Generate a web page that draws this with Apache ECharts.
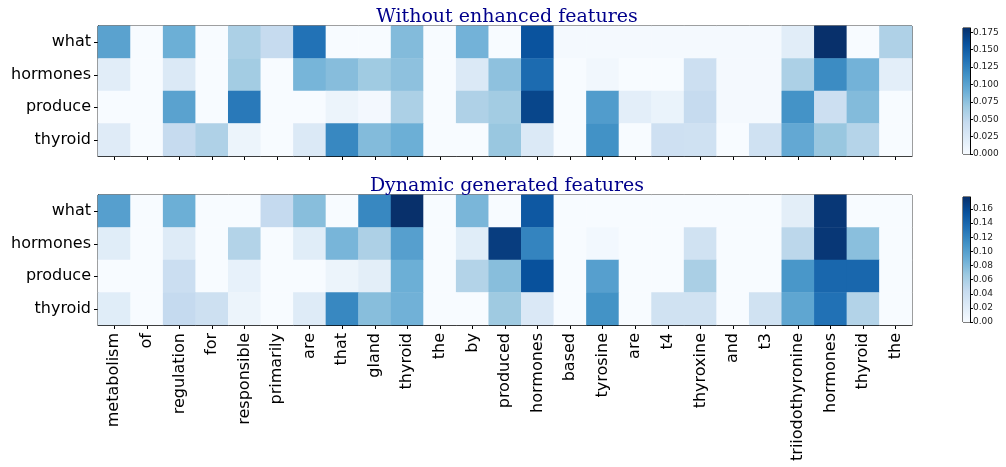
<!DOCTYPE html>
<html><head><meta charset="utf-8">
<script src="https://cdn.jsdelivr.net/npm/echarts@6/dist/echarts.min.js"></script>
<style>html,body{margin:0;padding:0;background:#fff}#c{width:1006px;height:467px}</style>
</head><body><div id="c"></div>
<script>
const words = ['metabolism','of','regulation','for','responsible','primarily','are','that','gland','thyroid','the','by','produced','hormones','based','tyrosine','are','t4','thyroxine','and','t3','triiodothyronine','hormones','thyroid','the'];
const rows = ['what','hormones','produce','thyroid'];
const titleTop = 'Without enhanced features';
const titleBottom = 'Dynamic generated features';
const vmaxTop = 0.181;
const vmaxBottom = 0.177;
const ticksTop = 0.025;
const ticksBottom = 0.02;

// Without enhanced features
const topWhat     = [0.10,0,0.09,0,0.06,0.045,0.135,0,0,0.08,0,0.087,0,0.157,0.003,0.003,0.003,0.003,0.003,0.003,0.003,0.02,0.181,0,0.058];
const topHormones = [0.02,0,0.025,0,0.065,0,0.085,0.078,0.067,0.075,0,0.025,0.075,0.14,0,0.005,0,0,0.04,0.003,0.003,0.06,0.117,0.087,0.018];
const topProduce  = [0,0,0.10,0,0.13,0,0,0.01,0.004,0.06,0,0.058,0.065,0.166,0,0.105,0.018,0.012,0.045,0.003,0.003,0.112,0.04,0.08,0];
const topThyroid  = [0.022,0,0.045,0.058,0.01,0,0.025,0.12,0.08,0.09,0,0,0.07,0.025,0,0.113,0,0.038,0.037,0,0.037,0.095,0.07,0.055,0];

// Dynamic generated features
const botWhat     = [0.10,0,0.088,0,0,0.045,0.076,0,0.117,0.177,0,0.082,0,0.15,0,0,0,0,0,0,0,0.018,0.172,0,0];
const botHormones = [0.02,0,0.022,0,0.055,0,0.02,0.083,0.058,0.10,0,0.02,0.168,0.12,0,0.004,0,0,0.035,0,0,0.05,0.172,0.075,0];
const botProduce  = [0,0,0.04,0,0.014,0,0,0.01,0.018,0.088,0,0.055,0.076,0.155,0,0.10,0,0,0.06,0,0,0.107,0.14,0.14,0];
const botThyroid  = [0.02,0,0.045,0.038,0.01,0,0.022,0.117,0.076,0.086,0,0,0.066,0.026,0,0.11,0,0.035,0.035,0,0.035,0.095,0.133,0.055,0];

const blues = ['#f7fbff','#deebf7','#c6dbef','#9ecae1','#6baed6','#4292c6','#2171b5','#08519c','#08306b'];

function toCells(rowsArr){
  const out=[];
  rowsArr.forEach((r,yi)=>r.forEach((v,xi)=>out.push([xi,yi,v])));
  return out;
}
const topData = toCells([topWhat,topHormones,topProduce,topThyroid]);
const botData = toCells([botWhat,botHormones,botProduce,botThyroid]);

const FONT = 'DejaVu Sans';
const barGrad = {type:'linear',x:0,y:1,x2:0,y2:0,
  colorStops:blues.map((c,i)=>({offset:i/(blues.length-1),color:c}))};

function xAx(gi, showLabels){
  return {type:'category', gridIndex:gi, data:words,
    axisLine:{show:true,lineStyle:{color:'#000',width:1}},
    axisTick:{show:true,alignWithLabel:true,length:4,lineStyle:{color:'#000'}},
    axisLabel:{show:showLabels,rotate:90,interval:0,fontFamily:FONT,fontSize:16,color:'#000',margin:8},
    splitLine:{show:false}};
}
function yAx(gi){
  return {type:'category', gridIndex:gi, data:rows, inverse:true,
    axisLine:{show:true,lineStyle:{color:'#000',width:1}},
    axisTick:{show:true,alignWithLabel:true,length:4,lineStyle:{color:'#000'}},
    axisLabel:{fontFamily:FONT,fontSize:16,color:'#000',margin:7},
    splitLine:{show:false}};
}
function cbX(gi){ return {type:'category',gridIndex:gi,data:['c'],show:false}; }
function cbY(gi,vmax,iv,dec){
  return {type:'value',gridIndex:gi,min:0,max:vmax,interval:iv,position:'right',
    axisLine:{show:true,lineStyle:{color:'#000',width:1}},
    axisTick:{show:true,length:3,lineStyle:{color:'#000'}},
    axisLabel:{fontFamily:FONT,fontSize:9,color:'#222',margin:3,showMaxLabel:false,
      formatter:v=>v.toFixed(dec)},
    splitLine:{show:false}};
}

const option = {
  animation:false,
  backgroundColor:'#fff',
  title:[
    {text:titleTop,left:502,top:3,textAlign:'center',textStyle:{fontFamily:'DejaVu Serif',fontSize:19,fontWeight:'normal',color:'#00008b'}},
    {text:titleBottom,left:502,top:172,textAlign:'center',textStyle:{fontFamily:'DejaVu Serif',fontSize:19,fontWeight:'normal',color:'#00008b'}}
  ],
  grid:[
    {left:98,top:26,width:814,height:130,show:true,borderColor:'#000',borderWidth:1,backgroundColor:'transparent'},
    {left:98,top:195,width:814,height:130,show:true,borderColor:'#000',borderWidth:1,backgroundColor:'transparent'},
    {left:963,top:28,width:7,height:126,show:true,borderColor:'#000',borderWidth:1},
    {left:963,top:197,width:7,height:125,show:true,borderColor:'#000',borderWidth:1}
  ],
  xAxis:[xAx(0,false),xAx(1,true),cbX(2),cbX(3)],
  yAxis:[yAx(0),yAx(1),cbY(2,vmaxTop,ticksTop,3),cbY(3,vmaxBottom,ticksBottom,2)],
  visualMap:[
    {type:'continuous',show:false,seriesIndex:0,min:0,max:vmaxTop,inRange:{color:blues}},
    {type:'continuous',show:false,seriesIndex:1,min:0,max:vmaxBottom,inRange:{color:blues}}
  ],
  series:[
    {type:'heatmap',xAxisIndex:0,yAxisIndex:0,data:topData,itemStyle:{borderWidth:0},emphasis:{disabled:true},z:1},
    {type:'heatmap',xAxisIndex:1,yAxisIndex:1,data:botData,itemStyle:{borderWidth:0},emphasis:{disabled:true},z:1},
    {type:'bar',xAxisIndex:2,yAxisIndex:2,data:[vmaxTop],barWidth:'100%',itemStyle:{color:barGrad}},
    {type:'bar',xAxisIndex:3,yAxisIndex:3,data:[vmaxBottom],barWidth:'100%',itemStyle:{color:barGrad}}
  ]
};
echarts.init(document.getElementById('c'),null,{renderer:'canvas'}).setOption(option);
</script>
</body></html>
